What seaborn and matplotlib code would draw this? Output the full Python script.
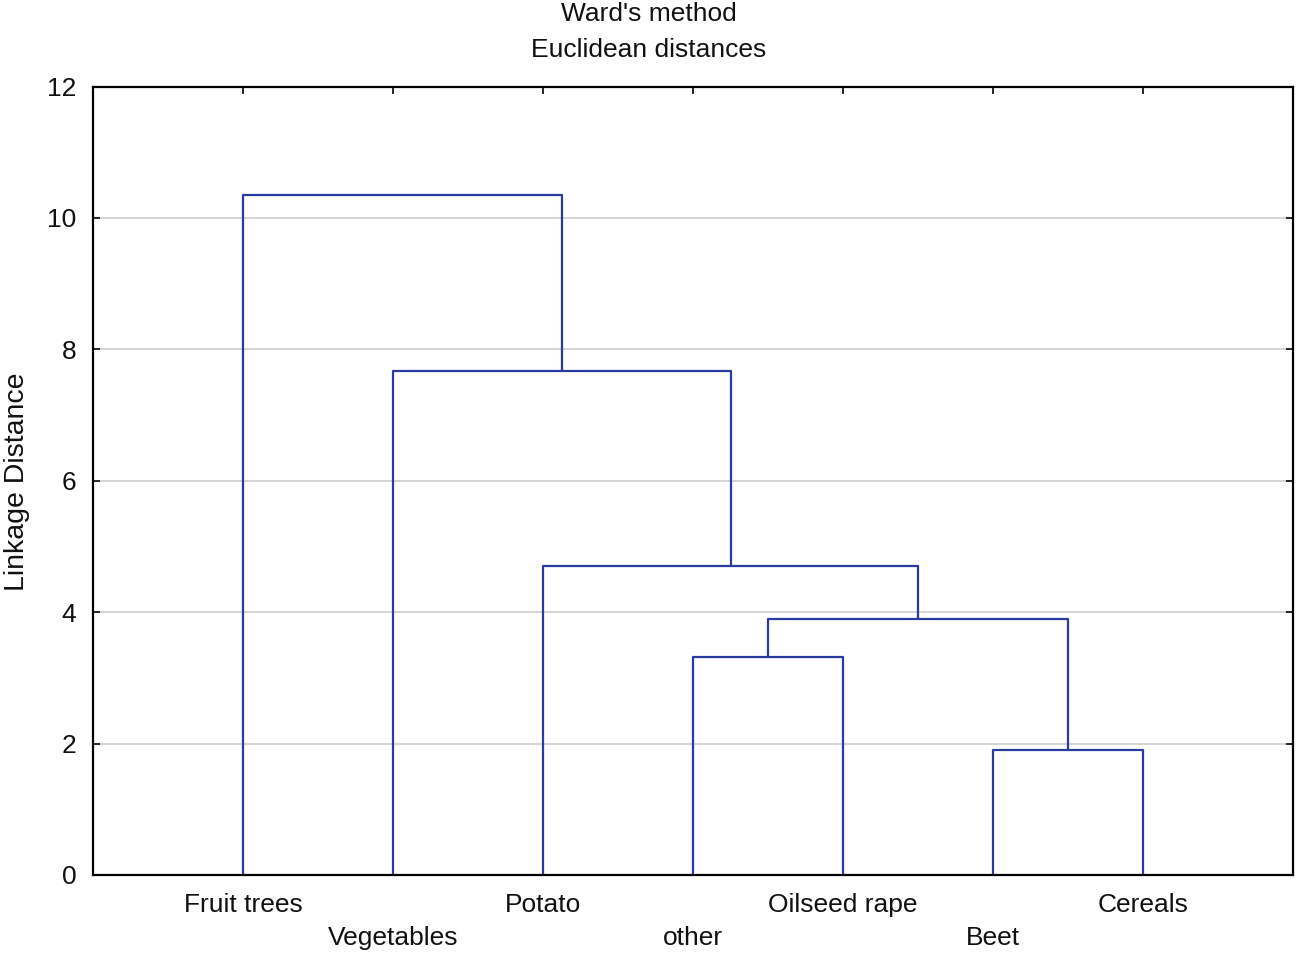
import matplotlib
matplotlib.use("Agg")
import matplotlib.pyplot as plt
import matplotlib.transforms as mtrans
import seaborn as sns
import pandas as pd
import numpy as np

# ---- data ----
leaves = ["Fruit trees", "Vegetables", "Potato", "other", "Oilseed rape", "Beet", "Cereals"]
# merges: (left child, right child, height); leaves are 0..6, new clusters 7..
merge_left = [5, 3, 8, 2, 1, 0]
merge_right = [6, 4, 7, 9, 10, 11]
merge_height = [1.90, 3.32, 3.90, 4.71, 7.67, 10.35]
yticks = [0, 2, 4, 6, 8, 10, 12]
title_lines = ["Ward's method", "Euclidean distances"]
ylabel = "Linkage Distance"

# ---- build dendrogram link paths ----
n = len(leaves)
pos = {i: i + 1.0 for i in range(n)}
hgt = {i: 0.0 for i in range(n)}
rows = []
for k, (a, b, h) in enumerate(zip(merge_left, merge_right, merge_height)):
    xa, xb = pos[a], pos[b]
    for x, y in [(xa, hgt[a]), (xa, h), (xb, h), (xb, hgt[b])]:
        rows.append({"link": k, "x": x, "y": y})
    pos[n + k] = (xa + xb) / 2
    hgt[n + k] = h
df = pd.DataFrame(rows)

sns.set_theme(style="white")
plt.rcParams["font.family"] = ["Liberation Sans", "DejaVu Sans"]

FS = 19
TXT = "#111111"

fig = plt.figure(figsize=(12.98, 9.58), dpi=100)
ax = fig.add_axes([93 / 1298, 1 - 875 / 958, 1200 / 1298, (875 - 86.5) / 958])

for yt in yticks[1:-1]:
    ax.axhline(yt, color="#d4d4d4", lw=1.4, zorder=0)

sns.lineplot(data=df, x="x", y="y", units="link", estimator=None, sort=False,
             color="#2b3a9e", lw=1.6, ax=ax, legend=False)

ax.set_xlim(0, n + 1)
ax.set_ylim(0, 12)
ax.set_xticks(np.arange(1, n + 1))
ax.set_xticklabels([])
ax.set_yticks(yticks)
ax.set_yticklabels([str(v) for v in yticks], fontsize=FS, color=TXT)
ax.tick_params(axis="y", direction="in", length=5, width=1.4, pad=12, left=True, right=True)
ax.tick_params(axis="x", direction="in", length=5, width=1.4, bottom=True, top=True)
for s in ax.spines.values():
    s.set_visible(True)
    s.set_color("black")
    s.set_linewidth(1.6)
ax.set_xlabel("")
ax.set_ylabel(ylabel, fontsize=20.5, color=TXT)
ax.yaxis.set_label_coords((17 - 93) / 1200, (875 - 482) / 788.5)
ax.yaxis.label.set_va("center")

trans = mtrans.blended_transform_factory(ax.transData, ax.transAxes)
for i, name in enumerate(leaves):
    yy = -0.038 if i % 2 == 0 else -0.080
    ax.text(i + 1, yy, name, transform=trans, ha="center", va="center",
            fontsize=FS, color=TXT)

fig.text(0.5, 1 - 14 / 958, title_lines[0], ha="center", va="center", fontsize=FS, color=TXT)
fig.text(0.5, 1 - 50 / 958, title_lines[1], ha="center", va="center", fontsize=FS, color=TXT)

fig.savefig("out.png", dpi=100)
